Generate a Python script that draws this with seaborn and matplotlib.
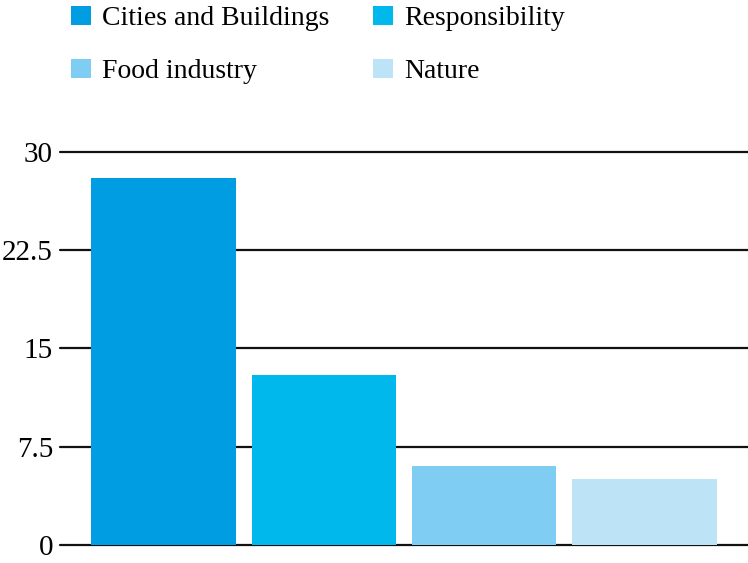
import matplotlib
matplotlib.use("Agg")
import matplotlib.pyplot as plt
import seaborn as sns

# data
categorias = ["Cities and Buildings", "Responsibility", "Food industry", "Nature"]
valores = [28, 13, 6, 5]
colores = ["#009DE2", "#00B8EC", "#7FCDF2", "#BDE3F7"]
ticks_y = [0, 7.5, 15, 22.5, 30]
etiquetas_y = ["0", "7.5", "15", "22.5", "30"]

sns.set_theme(style="white")
plt.rcParams["font.family"] = ["Liberation Serif", "DejaVu Serif"]

fig = plt.figure(figsize=(7.48, 5.63), dpi=100)
ax = fig.add_axes([0.0802, 0.032, 0.9198, 0.698])

sns.barplot(x=categorias, y=valores, hue=categorias, palette=colores,
            width=0.9, saturation=1, legend=True, linewidth=0, ax=ax, zorder=3)

ax.set_ylim(0, 30)
ax.set_xlim(-0.645, 3.645)
ax.set_yticks(ticks_y)
ax.set_yticklabels(etiquetas_y)
ax.yaxis.grid(True, color="#111111", linewidth=1.6)
for gl in ax.get_ygridlines():
    gl.set_clip_on(False)
ax.set_axisbelow(True)
ax.tick_params(axis="y", length=0, pad=5, labelsize=21, colors="black")
ax.set_xticks([])
ax.set_xlabel("")
ax.set_ylabel("")
for s in ax.spines.values():
    s.set_visible(False)

# leyenda por filas: reordenar para ncol=2
handles, labels = ax.get_legend_handles_labels()
orden = [0, 2, 1, 3]
ax.get_legend().remove()
fig.legend([handles[i] for i in orden], [labels[i] for i in orden],
           loc="upper left", bbox_to_anchor=(0.095, 0.99),
           ncol=2, frameon=False, fontsize=20, labelcolor="black",
           handlelength=0.7, handleheight=0.7, handletextpad=0.4,
           columnspacing=1.6, labelspacing=1.0, borderaxespad=0, borderpad=0)

fig.savefig("out.png", dpi=100)
